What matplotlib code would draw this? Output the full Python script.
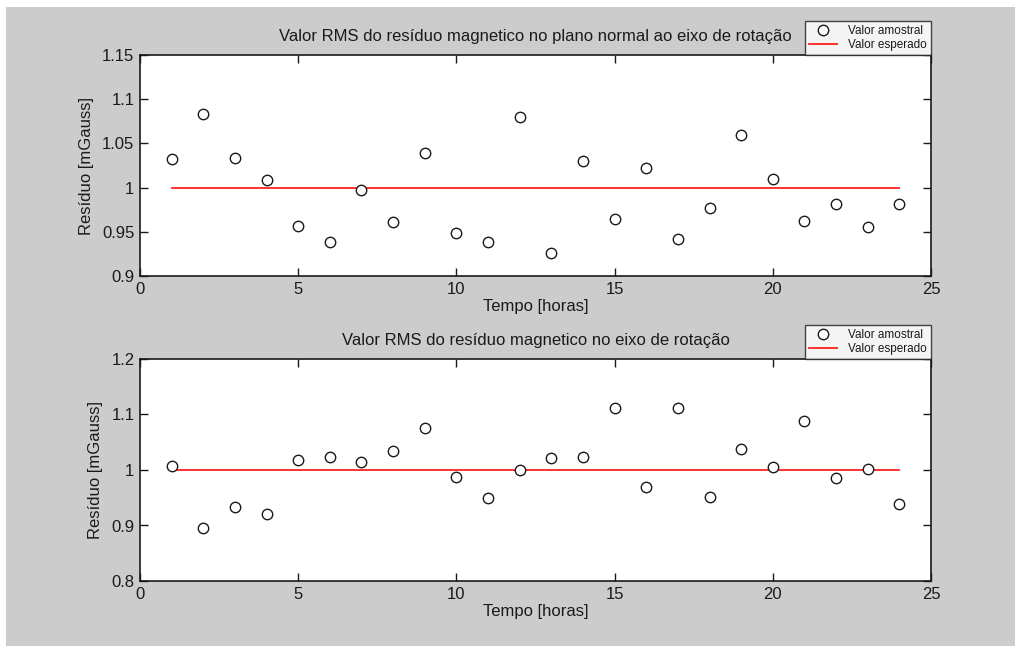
import matplotlib.pyplot as plt
from matplotlib.patches import Rectangle

# hours
horas = list(range(1, 25))

# RMS residue, plane normal to rotation axis (mGauss)
rms_plano = [1.032, 1.083, 1.033, 1.009, 0.956, 0.938, 0.997, 0.961,
             1.039, 0.949, 0.938, 1.080, 0.926, 1.030, 0.964, 1.022,
             0.942, 0.977, 1.059, 1.010, 0.962, 0.982, 0.955, 0.981]

# RMS residue, along rotation axis (mGauss)
rms_eixo = [1.008, 0.896, 0.933, 0.921, 1.018, 1.024, 1.015, 1.034,
            1.075, 0.988, 0.949, 1.000, 1.022, 1.024, 1.112, 0.970,
            1.112, 0.951, 1.038, 1.006, 1.089, 0.986, 1.002, 0.939]

esperado = [1.0] * len(horas)

titulos = ['Valor RMS do resíduo magnetico no plano normal ao eixo de rotação',
           'Valor RMS do resíduo magnetico no eixo de rotação']
ylims = [(0.9, 1.15), (0.8, 1.2)]
yticks = [[0.9, 0.95, 1.0, 1.05, 1.1, 1.15], [0.8, 0.9, 1.0, 1.1, 1.2]]
yticklabels = [['0.9', '0.95', '1', '1.05', '1.1', '1.15'],
               ['0.8', '0.9', '1', '1.1', '1.2']]
xticks = [0, 5, 10, 15, 20, 25]

plt.rcParams['font.family'] = ['Liberation Sans', 'DejaVu Sans']
txt_color = '#1a1a1a'

W, H = 1015, 646
fig = plt.figure(figsize=(W / 100, H / 100), dpi=100)
fig.patch.set_facecolor('white')
fig.patches.append(Rectangle((6 / W, 0), 1 - 6 / W, 1 - 7 / H, transform=fig.transFigure,
                             facecolor='#cccccc', edgecolor='none', zorder=-10))

# axes boxes in pixels: (left, top, right, bottom)
boxes = [(140, 55, 931, 276), (140, 359, 931, 581)]
series = [rms_plano, rms_eixo]

for i in range(2):
    l, t, r, b = boxes[i]
    ax = fig.add_axes([l / W, 1 - b / H, (r - l) / W, (b - t) / H])
    ax.set_facecolor('white')
    ax.plot(horas, esperado, color='#ff2020', lw=1.3, label='Valor esperado', zorder=2)
    ax.plot(horas, series[i], linestyle='none', marker='o', markersize=7.5,
            markerfacecolor='white', markeredgecolor='#1a1a1a', markeredgewidth=1.0,
            label='Valor amostral', zorder=3)
    ax.set_xlim(0, 25)
    ax.set_ylim(*ylims[i])
    ax.set_xticks(xticks)
    ax.set_yticks(yticks[i])
    ax.set_yticklabels(yticklabels[i])
    ax.tick_params(direction='in', top=True, right=True, length=6, width=1.0,
                   labelsize=12, colors=txt_color, pad=4)
    for s in ax.spines.values():
        s.set_linewidth(1.2)
        s.set_color('#1a1a1a')
    ax.set_title(titulos[i], fontsize=12, color=txt_color, pad=10)
    ax.set_xlabel('Tempo [horas]', fontsize=12, color=txt_color, labelpad=2)
    ax.set_ylabel('Resíduo [mGauss]', fontsize=12, color=txt_color, labelpad=6)

    handles, labels = ax.get_legend_handles_labels()
    leg = ax.legend(handles[::-1], labels[::-1], loc='lower right', bbox_to_anchor=(1.0, 1.0),
                    fontsize=8.5, frameon=True, fancybox=False, borderaxespad=0,
                    handlelength=2.4, handletextpad=0.9, borderpad=0.35, labelspacing=0.15)
    leg.get_frame().set_edgecolor('#1a1a1a')
    leg.get_frame().set_linewidth(1.0)
    for tx in leg.get_texts():
        tx.set_color(txt_color)

fig.savefig('out.png', dpi=100, facecolor=fig.get_facecolor())
